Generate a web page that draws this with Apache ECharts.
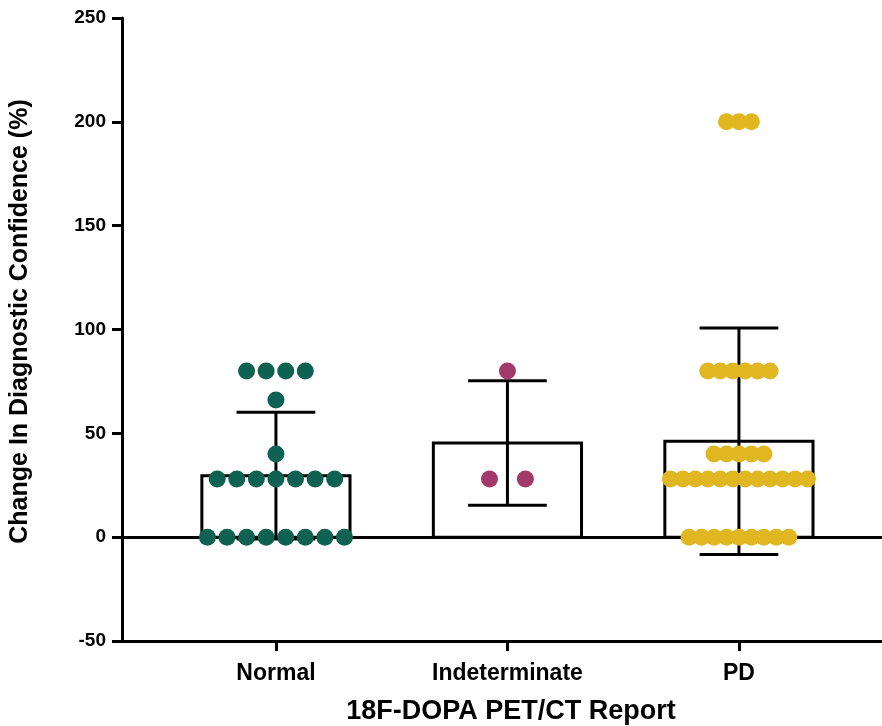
<!DOCTYPE html>
<html>
<head>
<meta charset="utf-8">
<script src="https://cdn.jsdelivr.net/npm/echarts@6/dist/echarts.min.js"></script>
<style>html,body{margin:0;padding:0;background:#fff}#chart{width:882px;height:726px}</style>
</head>
<body>
<div id="chart"></div>
<script>
const categories = ['Normal', 'Indeterminate', 'PD'];
const normalValues = [0,0,0,0,0,0,0,0, 28,28,28,28,28,28,28, 40, 66, 80,80,80,80];
const indeterminateValues = [28, 28, 80];
const pdValues = [0,0,0,0,0,0,0,0,0, 28,28,28,28,28,28,28,28,28,28,28,28, 40,40,40,40,40, 80,80,80,80,80,80, 200,200,200];
const groupValues = [normalValues, indeterminateValues, pdValues];
const groupColors = ['#0F6151', '#A2396A', '#E0B621'];
const yMin = -50, yMax = 250, yInterval = 50;

// mean and sample SD per group
function mean(a){ return a.reduce((s,v)=>s+v,0)/a.length; }
function sd(a){ const m = mean(a); return Math.sqrt(a.reduce((s,v)=>s+(v-m)*(v-m),0)/(a.length-1)); }
const barData = groupValues.map((vals, i) => [i, mean(vals), sd(vals)]);

// beeswarm layout (in x data units, one unit = category spacing)
const maxRowSpan = 0.592, maxStep = 0.155;
function swarm(vals, idx){
  const counts = {};
  vals.forEach(v => counts[v] = (counts[v] || 0) + 1);
  const maxCount = Math.max(...Object.values(counts));
  const step = maxCount > 1 ? Math.min(maxStep, maxRowSpan/(maxCount-1)) : 0;
  const pts = [];
  Object.keys(counts).forEach(k => {
    const n = counts[k];
    for (let j = 0; j < n; j++) pts.push([idx + (j - (n-1)/2)*step, Number(k)]);
  });
  return pts;
}

const font = 'Liberation Sans, Arial, sans-serif';
const chart = echarts.init(document.getElementById('chart'), null, {renderer: 'canvas'});

const series = [{
  type: 'custom',
  z: 2,
  data: barData,
  renderItem: function(params, api){
    const i = api.value(0), m = api.value(1), s = api.value(2);
    const unit = api.size([1, 0])[0];
    const w = unit * 0.64, cw = unit * 0.34;
    const p0 = api.coord([i, 0]);
    const pm = api.coord([i, m]);
    const pl = api.coord([i, m - s]);
    const pu = api.coord([i, m + s]);
    const ls = {stroke: '#000', lineWidth: 3, fill: null};
    return {
      type: 'group',
      children: [
        {type: 'rect', shape: {x: p0[0]-w/2, y: pm[1], width: w, height: p0[1]-pm[1]}, style: {fill: '#fff', stroke: '#000', lineWidth: 3}},
        {type: 'line', shape: {x1: pl[0], y1: pl[1], x2: pu[0], y2: pu[1]}, style: ls},
        {type: 'line', shape: {x1: pu[0]-cw/2, y1: pu[1], x2: pu[0]+cw/2, y2: pu[1]}, style: ls},
        {type: 'line', shape: {x1: pl[0]-cw/2, y1: pl[1], x2: pl[0]+cw/2, y2: pl[1]}, style: ls}
      ]
    };
  },
  markLine: {
    silent: true,
    symbol: ['none', 'none'],
    label: {show: false},
    lineStyle: {color: '#000', width: 3, type: 'solid'},
    data: [{yAxis: 0}]
  }
}];
groupValues.forEach((vals, i) => {
  series.push({
    type: 'scatter',
    z: 5,
    name: categories[i],
    symbol: 'circle',
    symbolSize: 17,
    itemStyle: {color: groupColors[i], opacity: 1},
    data: swarm(vals, i)
  });
});

const tickPositions = categories.map((c, i) => i);

chart.setOption({
  animation: false,
  backgroundColor: '#fff',
  grid: {left: 122, right: 0, top: 18, bottom: 85, containLabel: false, outerBoundsMode: 'none'},
  xAxis: {
    type: 'value',
    min: -0.665, max: 2.618,
    splitLine: {show: false},
    axisLine: {show: true, onZero: false, lineStyle: {color: '#000', width: 3}},
    axisTick: {show: true, customValues: tickPositions, length: 10, lineStyle: {color: '#000', width: 3}},
    axisLabel: {show: true, customValues: tickPositions, formatter: v => categories[Math.round(v)], color: '#000', fontFamily: font, fontWeight: 'bold', fontSize: 23, margin: 21},
    name: '18F-DOPA PET/CT Report',
    nameLocation: 'middle',
    nameGap: 57,
    nameTextStyle: {color: '#000', fontFamily: font, fontWeight: 'bold', fontSize: 27, padding: [0, 0, 0, 18]}
  },
  yAxis: {
    type: 'value',
    min: yMin, max: yMax, interval: yInterval,
    splitLine: {show: false},
    axisLine: {show: true, onZero: false, lineStyle: {color: '#000', width: 3}},
    axisTick: {show: true, length: 10, lineStyle: {color: '#000', width: 3}},
    axisLabel: {color: '#000', fontFamily: font, fontWeight: 'bold', fontSize: 19, margin: 16},
    name: 'Change In Diagnostic Confidence (%)',
    nameLocation: 'middle',
    nameGap: 89,
    nameTextStyle: {color: '#000', fontFamily: font, fontWeight: 'bold', fontSize: 25, padding: [0, 0, 0, 16]}
  },
  series: series
});
</script>
</body>
</html>
